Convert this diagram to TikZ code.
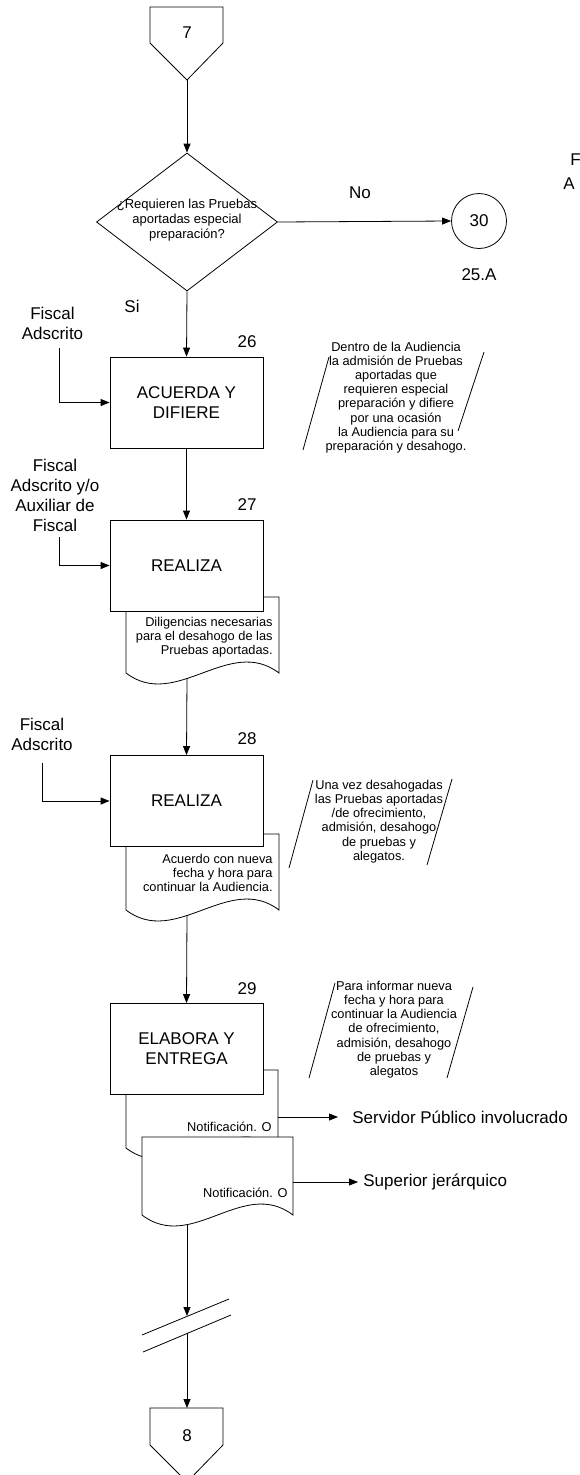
\documentclass[tikz,border=0pt]{standalone}
\usepackage{fontspec}
\setmainfont{Liberation Sans}
\usetikzlibrary{positioning,shapes.geometric,arrows.meta}

\newcommand{\fbig}{\fontsize{17}{20}\selectfont}
\newcommand{\fsmall}{\fontsize{12.8}{14.2}\selectfont}

\tikzset{
  proc/.style={draw,fill=white,minimum width=153pt,minimum height=91pt,inner sep=0pt,align=center,font=\fbig},
  lbl/.style={align=center,font=\fbig,inner sep=0pt},
  note/.style={align=center,font=\fsmall,inner sep=0pt},
  doctxt/.style={align=right,font=\fsmall,inner sep=0pt,anchor=east},
  docbox/.style={draw,fill=white},
}

\begin{document}
\begin{tikzpicture}[x=1pt,y=-1pt,line width=0.8pt,>={Triangle[length=9pt,width=7pt]}]
    \useasboundingbox (0,0) rectangle (580,1475);

    % Conector de pagina 7
    \draw (150,7) -- (223,7) -- (223,43) -- (187,80) -- (150,43) -- cycle;
    \node[lbl] (p7) at (187,33) {7};
    \coordinate (p7tip) at (187,80);

    % Decision
    \node[draw,diamond,minimum width=181pt,minimum height=138pt,inner sep=0pt] (q) at (187,222) {};
    \node[note,font=\fontsize{13}{15}\selectfont] (qtxt) at (187,220) {¿Requieren las Pruebas\\aportadas especial\\preparación?};
    \node[lbl] (no) at (360,193) {No};
    \node[lbl] (si) at (132,306) {Si};
    \node[draw,circle,minimum size=55pt,inner sep=0pt,font=\fbig] (c30) at (479,221) {30};
    \node[lbl] (ref) at (479,275) {25.A};
    \node[lbl,anchor=west] (cutF) at (570,160) {F};
    \node[lbl,anchor=west] (cutA) at (563,184) {A};

    \draw[->] (p7tip) -- (q.north);
    \draw[->] (q.east) -- (c30.west);

    % Documentos
    \draw[docbox] (126,597) -- (279,597) -- (279,673) .. controls (229,635) and (176,711) .. (126,673) -- cycle;
    \draw[docbox] (126,834) -- (279,834) -- (279,910) .. controls (229,872) and (176,948) .. (126,910) -- cycle;
    \draw[docbox] (126,1070) -- (278,1070) -- (278,1148) .. controls (228,1110) and (176,1186) .. (126,1148) -- cycle;
    \draw[docbox] (142,1137) -- (293,1137) -- (293,1215) .. controls (243,1177) and (192,1253) .. (142,1215) -- cycle;

    \node[doctxt] (doc27) at (273,637) {Diligencias necesarias\\para el desahogo de las\\Pruebas aportadas.};
    \node[doctxt] (doc28) at (273,873) {Acuerdo con nueva\\fecha y hora para\\continuar la Audiencia.};
    \node[doctxt] (doc29a) at (272,1127) {Notificación. O};
    \node[doctxt] (doc29b) at (288,1193) {Notificación. O};

    \coordinate (d27) at (187,678);
    \coordinate (d28) at (187,915);
    \coordinate (d29a) at (278,1117);
    \coordinate (d29b) at (293,1182);
    \coordinate (d29end) at (187,1224);

    % Actividades
    \node[proc] (b26) at (186.5,402.5) {ACUERDA Y\\DIFIERE};
    \node[proc] (b27) at (186.5,565.5) {REALIZA};
    \node[proc] (b28) at (186.5,801) {REALIZA};
    \node[proc] (b29) at (186.5,1049) {ELABORA Y\\ENTREGA};

    \node[lbl] (n26) at (247,342) {26};
    \node[lbl] (n27) at (247,505) {27};
    \node[lbl] (n28) at (247,739) {28};
    \node[lbl] (n29) at (247,989) {29};

    % Responsables
    \node[lbl] (fa26) at (52.5,323) {Fiscal\\Adscrito};
    \node[lbl] (fa27) at (55,495.5) {Fiscal\\Adscrito y/o\\Auxiliar de\\Fiscal};
    \node[lbl] (fa28) at (42,734) {Fiscal\\Adscrito};
    \coordinate (fa26s) at (59,348);
    \coordinate (fa27s) at (59,537);
    \coordinate (fa28s) at (42,763);

    \draw[->] (fa26s) |- (b26.west);
    \draw[->] (fa27s) |- (b27.west);
    \draw[->] (fa28s) |- (b28.west);

    \draw[->] (q.south) -- (b26.north);
    \draw[->] (b26.south) -- (b27.north);
    \draw[->] (d27) -- (b28.north);
    \draw[->] (d28) -- (b29.north);

    % Notas
    \node[note] (t26) at (396,397.5) {Dentro de la Audiencia\\la admisión de Pruebas\\aportadas que\hspace*{30pt}\\requieren especial\\preparación y difiere\\por una ocasión\\la Audiencia para su\\preparación y desahogo.};
    \draw (329,357) -- (303,450);
    \draw (484,352) -- (458,431);

    \node[note] (t28) at (379,821.5) {Una vez desahogadas\\las Pruebas aportadas\\/de ofrecimiento,\\admisión, desahogo\\de pruebas y\\alegatos.};
    \draw (313,780) -- (289,868);
    \draw (452,779) -- (427,865);

    \node[note] (t29) at (394,1029.5) {Para informar nueva\\fecha y hora para\\continuar la Audiencia\\de ofrecimiento,\\admisión, desahogo\\de pruebas y\\alegatos};
    \draw (335,983) -- (309,1078);
    \draw (473,987) -- (447,1078);

    % Destinatarios
    \node[lbl,anchor=west] (spi) at (352,1117) {Servidor Público involucrado};
    \node[lbl,anchor=west] (sj) at (363,1182) {Superior jerárquico};
    \draw[->] (d29a) -- ([xshift=-14pt]spi.west);
    \draw[->] (d29b) -- ([xshift=-5pt]sj.west);

    % Corte y conector 8
    \draw (142,1335) -- (229,1299);
    \draw (143,1352) -- (231,1315);
    \coordinate (brkA) at (187,1316);
    \coordinate (brkB) at (187,1333);
    \draw[->] (d29end) -- (brkA);

    \draw (150,1408) -- (223,1408) -- (223,1445) -- (187,1482) -- (150,1445) -- cycle;
    \node[lbl] (p8) at (187,1436) {8};
    \coordinate (p8top) at (187,1408);
    \draw[->] (brkB) -- (p8top);
\end{tikzpicture}
\end{document}
